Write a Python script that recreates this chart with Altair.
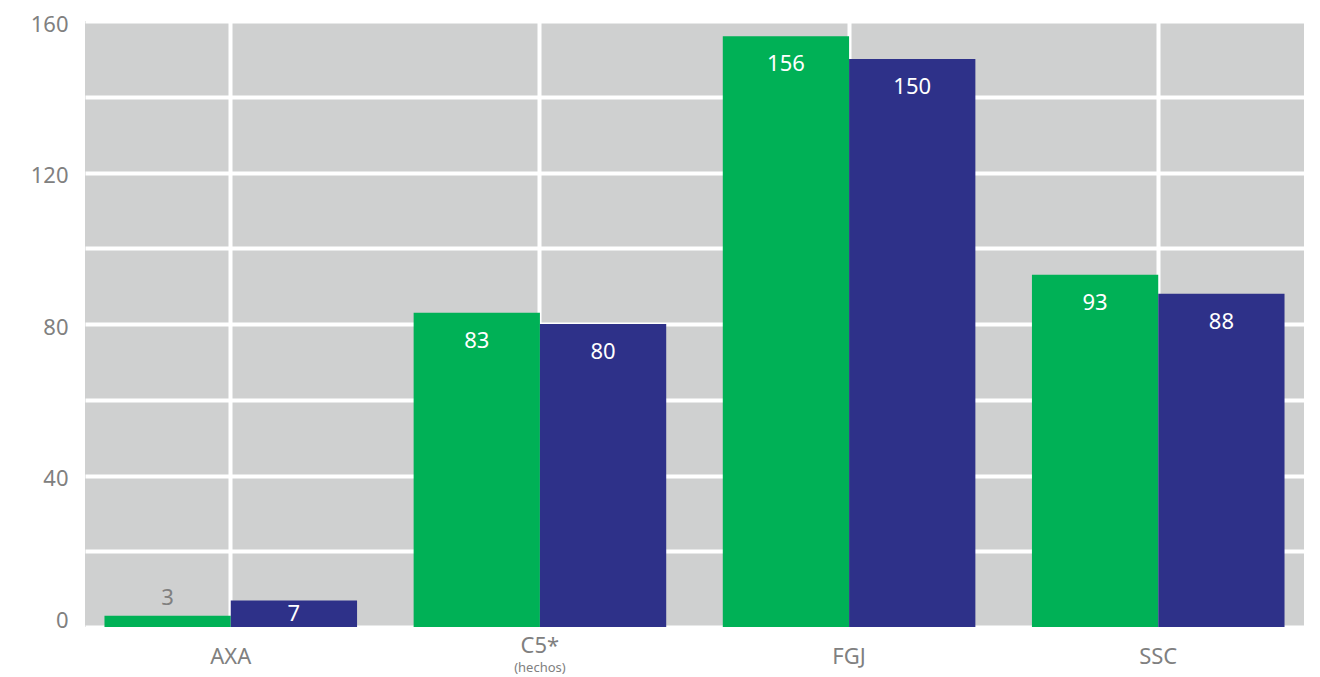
import altair as alt
import pandas as pd

# Categories and series
categories = ["AXA", "C5*", "FGJ", "SSC"]
series_names = ["Serie A", "Serie B"]
values_a = [3, 83, 156, 93]
values_b = [7, 80, 150, 88]
# Two-line category label (main line + note underneath)
two_line_cat = "C5*"
two_line_note = "(hechos)"

rows = []
for cat, va, vb in zip(categories, values_a, values_b):
    rows.append({"cat": cat, "serie": series_names[0], "value": va})
    rows.append({"cat": cat, "serie": series_names[1], "value": vb})
df = pd.DataFrame(rows)
note_df = pd.DataFrame({"cat": [two_line_cat], "main": [two_line_cat], "note": [two_line_note]})

GREEN = "#00B156"
BLUE = "#2E3189"
GRAY_TEXT = "#808080"
FONT = "Noto Sans"

x_enc = alt.X(
    "cat:N",
    sort=categories,
    scale=alt.Scale(paddingInner=0.183, paddingOuter=0.063),
    axis=alt.Axis(
        title=None, domain=False, ticks=False, labelAngle=0,
        labelExpr=f"datum.label == '{two_line_cat}' ? '' : datum.label",
        labelFont=FONT, labelFontSize=22, labelColor=GRAY_TEXT,
        labelPadding=19, grid=True, gridColor="white", gridWidth=4,
        bandPosition=0.5,
    ),
)
x_off = alt.XOffset("serie:N", sort=series_names,
                    scale=alt.Scale(paddingInner=0, paddingOuter=0))
y_enc = alt.Y(
    "value:Q",
    scale=alt.Scale(domain=[0, 160], nice=False),
    axis=alt.Axis(
        title=None, domain=False, ticks=False,
        values=list(range(0, 161, 20)),
        labelExpr="datum.value % 40 == 0 ? datum.label : ''",
        labelFont=FONT, labelFontSize=22, labelColor=GRAY_TEXT,
        labelPadding=17,
        labelBaseline=alt.ExprRef(expr="datum.value == 0 ? 'alphabetic' : 'middle'"),
        labelOffset=alt.ExprRef(expr="datum.value == 0 ? 0 : 3"),
        grid=True, gridColor="white", gridWidth=4,
    ),
)

base = alt.Chart(df)

bars = base.mark_bar().encode(
    x=x_enc,
    xOffset=x_off,
    y=y_enc,
    color=alt.Color("serie:N", sort=series_names,
                    scale=alt.Scale(domain=series_names, range=[GREEN, BLUE]),
                    legend=None),
)

# Value labels: inside near the top of tall bars, centered in short ones,
# above the bar when it is too thin to hold the text
labels = base.transform_calculate(
    ly="datum.value < 5 ? datum.value + 4.6 : max(datum.value - 7.4, datum.value / 2)"
).mark_text(font=FONT, fontSize=22, baseline="middle").encode(
    x=alt.X("cat:N", sort=categories),
    xOffset=x_off,
    y=alt.Y("ly:Q"),
    text=alt.Text("value:Q"),
    color=alt.condition("datum.value < 5", alt.value(GRAY_TEXT), alt.value("white")),
)

note_base = alt.Chart(note_df)
main_line = note_base.mark_text(
    font=FONT, fontSize=22, color=GRAY_TEXT, baseline="middle", dy=19
).encode(x=alt.X("cat:N", sort=categories), y=alt.datum(0), text="main:N")
note_line = note_base.mark_text(
    font=FONT, fontSize=13, color=GRAY_TEXT, baseline="middle", dy=41
).encode(x=alt.X("cat:N", sort=categories), y=alt.datum(0), text="note:N")

chart = alt.layer(bars, labels, main_line, note_line).properties(
    width=1219, height=606,
    autosize=alt.AutoSizeParams(type="none"),
    padding={"left": 85, "top": 21, "right": 16, "bottom": 50},
    background="white",
).configure_view(fill="#CFD0D0", stroke=None)

chart.save("out.html", embed_options={"renderer": "svg", "actions": False})
